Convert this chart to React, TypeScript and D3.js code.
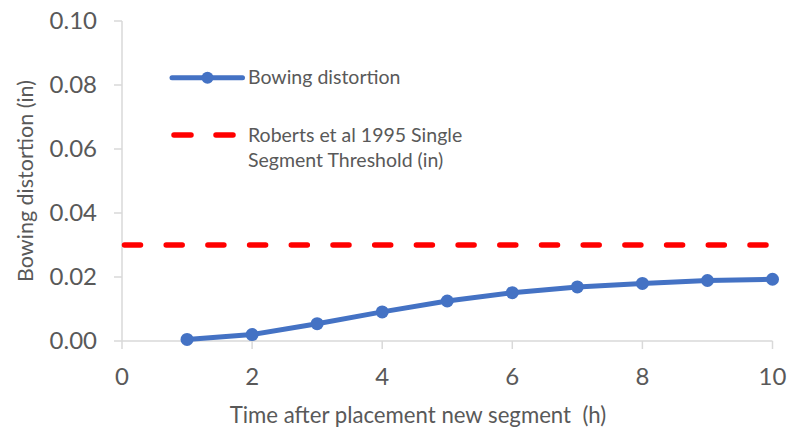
import React from "react";
import * as d3 from "d3";

const hours = [1, 2, 3, 4, 5, 6, 7, 8, 9, 10];
const bowing = [0.0005, 0.002, 0.0054, 0.0091, 0.0125, 0.0151, 0.0169, 0.018, 0.0189, 0.0193];
const threshold = 0.03;
const xTicks = [0, 2, 4, 6, 8, 10];
const yTicks = [0, 0.02, 0.04, 0.06, 0.08, 0.1];
const seriesNames = ["Bowing distortion", "Roberts et al 1995 Single", "Segment Threshold (in)"];
const xTitle = "Time after placement new segment  (h)";
const yTitle = "Bowing distortion (in)";

const W = 793, H = 445;
const FONT = "Lato, 'Open Sans', sans-serif";
const TXT = "#595959";
const AX = "#d9d9d9";
const BLUE = "#4472C4";

export default function App() {
  const x = d3.scaleLinear().domain([0, 10]).range([122, 772.5]);
  const y = d3.scaleLinear().domain([0, 0.1]).range([341, 21]);
  const line = d3.line<number>().x((_, i) => x(hours[i])).y((d) => y(d));
  const pts = bowing.map((v, i) => [hours[i], v]);
  return (
    <svg width={W} height={H} style={{ position: "absolute", left: 0, top: 0, background: "#fff" }} fontFamily={FONT}>
      {/* y axis */}
      <line x1={x(0)} x2={x(0)} y1={y(0.1)} y2={y(0)} stroke={AX} strokeWidth={1.5} />
      {yTicks.map((t) => (
        <g key={t}>
          <line x1={x(0) - 8} x2={x(0)} y1={y(t)} y2={y(t)} stroke={AX} strokeWidth={1.5} />
          <text x={97} y={y(t)} dy="0.35em" textAnchor="end" fontSize={24} fill={TXT}>{d3.format(".2f")(t)}</text>
        </g>
      ))}
      {/* x axis */}
      <line x1={x(0)} x2={x(10)} y1={y(0)} y2={y(0)} stroke={AX} strokeWidth={1.5} />
      {xTicks.map((t) => (
        <g key={t}>
          <line x1={x(t)} x2={x(t)} y1={y(0)} y2={y(0) + 8} stroke={AX} strokeWidth={1.5} />
          <text x={x(t)} y={376.5} dy="0.35em" textAnchor="middle" fontSize={24} fill={TXT}>{t}</text>
        </g>
      ))}
      <text x={418} y={423} textAnchor="middle" fontSize={22.2} fill={TXT} xmlSpace="preserve" style={{ whiteSpace: "pre" }}>{xTitle}</text>
      <text transform={`translate(33,181) rotate(-90)`} textAnchor="middle" fontSize={21.5} fill={TXT}>{yTitle}</text>
      {/* threshold */}
      <line x1={x(0) + 2.5} x2={x(10)} y1={y(threshold)} y2={y(threshold)} stroke="#ff0000" strokeWidth={5.5}
        strokeDasharray="16 25.7" strokeLinecap="round" />
      {/* series */}
      <path d={line(bowing) || ""} fill="none" stroke={BLUE} strokeWidth={5} strokeLinejoin="round" />
      {pts.map(([h, v]) => (
        <circle key={h} cx={x(h)} cy={y(v)} r={6.5} fill={BLUE} />
      ))}
      {/* legend */}
      <line x1={172} x2={242.5} y1={77.7} y2={77.7} stroke={BLUE} strokeWidth={5} strokeLinecap="round" />
      <circle cx={207.5} cy={77.7} r={6} fill={BLUE} />
      <text x={248} y={77.5} dy="0.35em" fontSize={19.5} fill={TXT}>{seriesNames[0]}</text>
      <line x1={174} x2={236} y1={135} y2={135} stroke="#ff0000" strokeWidth={5.5} strokeDasharray="17 25" strokeLinecap="round" />
      <text x={248} y={135} dy="0.35em" fontSize={19.5} fill={TXT}>{seriesNames[1]}</text>
      <text x={248} y={160} dy="0.35em" fontSize={19.5} fill={TXT}>{seriesNames[2]}</text>
    </svg>
  );
}
